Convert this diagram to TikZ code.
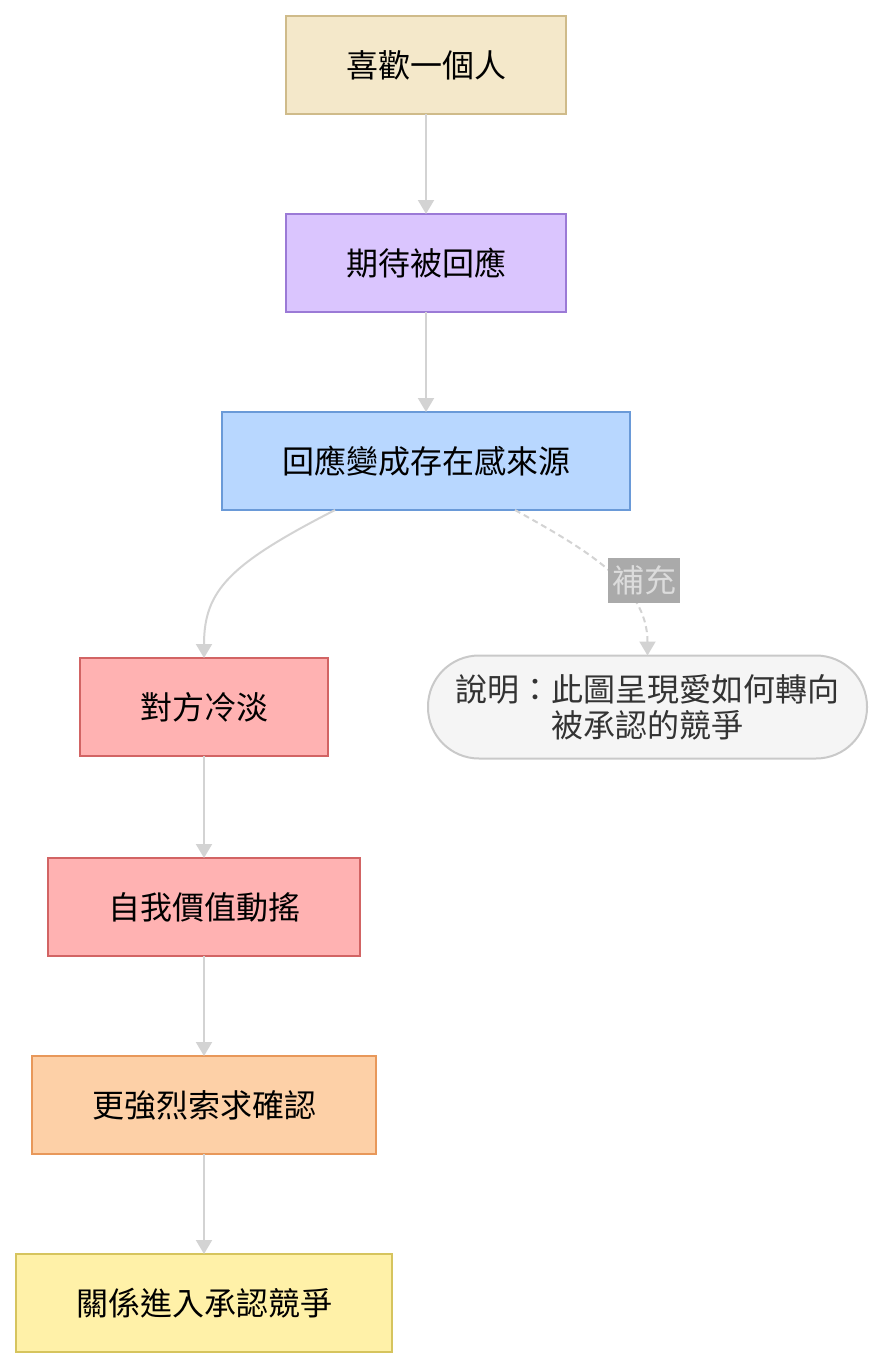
\documentclass[tikz,border=0pt]{standalone}
\usepackage{fontspec}
\setmainfont{Noto Sans CJK TC}
\usepackage{tikz}
\usetikzlibrary{arrows.meta, positioning}
\definecolor{edgegray}{HTML}{D3D3D3}
\definecolor{sandfill}{HTML}{F4E8CA}
\definecolor{sanddraw}{HTML}{CFBB8A}
\definecolor{lilacfill}{HTML}{DAC5FE}
\definecolor{lilacdraw}{HTML}{9B7AD6}
\definecolor{skyfill}{HTML}{B8D7FF}
\definecolor{skydraw}{HTML}{6A9AD8}
\definecolor{rosefill}{HTML}{FFB2B2}
\definecolor{rosedraw}{HTML}{D26464}
\definecolor{peachfill}{HTML}{FDD0A7}
\definecolor{peachdraw}{HTML}{E8985A}
\definecolor{lemonfill}{HTML}{FFF1A8}
\definecolor{lemondraw}{HTML}{D6C45E}
\definecolor{memofill}{HTML}{F5F5F5}
\definecolor{memodraw}{HTML}{C9C9C9}
\definecolor{memotext}{HTML}{333333}
\definecolor{tagfill}{HTML}{AAAAAA}
\definecolor{tagtext}{HTML}{DCDCDC}

\begin{document}
\begin{tikzpicture}[>={Triangle[length=14pt,width=16pt]}, node distance=100pt,
  font=\fontsize{32}{36}\selectfont,
  box/.style={rectangle, draw, line width=2pt, outer sep=0pt, minimum height=98pt, inner sep=0pt, text=black},
  memo/.style={rectangle, rounded corners=51pt, draw=memodraw, fill=memofill, line width=2pt, outer sep=0pt, minimum width=439pt, minimum height=103pt, inner sep=0pt, text=memotext, align=center},
  tag/.style={rectangle, fill=tagfill, text=tagtext, inner xsep=4pt, inner ysep=0pt, minimum height=45pt},
  edge/.style={->, draw=edgegray, fill=none, line width=2pt}]
\useasboundingbox (0,0) rectangle (884pt,-1370pt);
\node[box, fill=sandfill, draw=sanddraw, minimum width=280pt] (like) at (426pt,-65pt) {喜歡一個人};
\node[box, fill=lilacfill, draw=lilacdraw, minimum width=280pt, below=of like] (hope) {期待被回應};
\node[box, fill=skyfill, draw=skydraw, minimum width=408pt, below=of hope] (source) {回應變成存在感來源};
\node[box, fill=rosefill, draw=rosedraw, minimum width=248pt, below=148pt of source, xshift=-222pt] (cold) {對方冷淡};
\node[box, fill=rosefill, draw=rosedraw, minimum width=312pt, below=102pt of cold] (shaken) {自我價值動搖};
\node[box, fill=peachfill, draw=peachdraw, minimum width=344pt, below=of shaken] (demand) {更強烈索求確認};
\node[box, fill=lemonfill, draw=lemondraw, minimum width=376pt, below=of demand] (contest) {關係進入承認競爭};
\node[memo, right=100pt of cold] (note) {說明：此圖呈現愛如何轉向\\被承認的競爭};
\draw[edge] (like) -- (hope);
\draw[edge] (hope) -- (source);
\draw[edge] ([xshift=-91pt]source.south) .. controls +(-105pt,-54pt) and +(0,68pt) .. (cold.north);
\draw[edge] (cold) -- (shaken);
\draw[edge] (shaken) -- (demand);
\draw[edge] (demand) -- (contest);
\draw[edge, dash pattern=on 6pt off 4pt] ([xshift=89pt]source.south) .. controls +(70pt,-39pt) and +(0,71pt) .. (note.north);
\node[tag] (extra) at ([xshift=218pt,yshift=-70pt]source.south) {補充};
\end{tikzpicture}
\end{document}
